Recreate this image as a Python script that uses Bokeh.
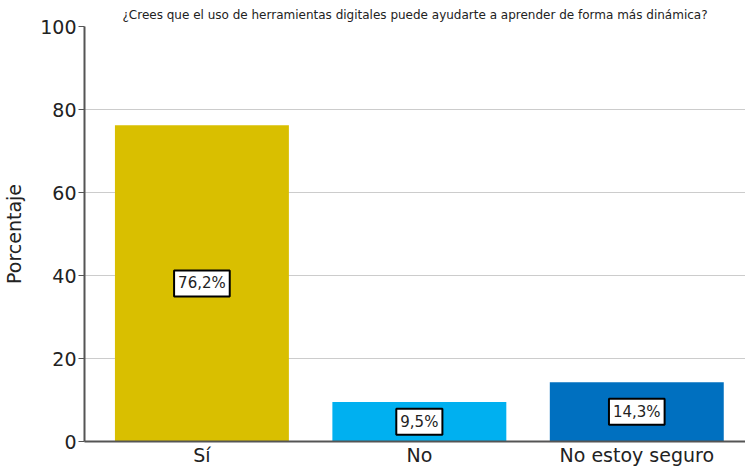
from bokeh.plotting import figure
from bokeh.models import ColumnDataSource, FixedTicker
from bokeh.core.properties import value
from bokeh.embed import file_html
from bokeh.resources import INLINE

# ---- data ----
title_text = "¿Crees que el uso de herramientas digitales puede ayudarte a aprender de forma más dinámica?"
categories = ["Sí", "No", "No estoy seguro"]
percentages = [76.2, 9.5, 14.3]
colors = ["#D9BF00", "#00B0F0", "#0070C0"]
y_ticks = [0, 20, 40, 60, 80, 100]

positions = list(range(len(categories)))
labels = [f"{v:.1f}".replace(".", ",") + "%" for v in percentages]
mids = [v / 2 for v in percentages]

src = ColumnDataSource(dict(x=positions, top=percentages, color=colors,
                            mid=mids, label=labels))

FONT = "DejaVu Sans"

p = figure(width=745, height=468, output_backend="svg", toolbar_location=None,
           x_range=(-0.54, 2.5), y_range=(0, 100),
           min_border_left=8, min_border_right=0, min_border_bottom=0, min_border_top=2)

p.title.text = title_text
p.title.align = "center"
p.title.text_font = FONT
p.title.text_font_size = "12px"
p.title.text_font_style = "normal"
p.title.text_color = "#222222"
p.title.offset = 0
p.title.standoff = 10

p.vbar(x="x", top="top", width=0.8, bottom=0, color="color", line_color=None, source=src)

p.text(x="x", y="mid", text="label", source=src,
       text_align="center", text_baseline="middle",
       text_font=value(FONT), text_font_size="15px", text_color="#222222",
       background_fill_color="white", border_line_color="black",
       border_line_width=2, padding=4)

p.outline_line_color = None
p.xgrid.grid_line_color = None
p.ygrid.grid_line_color = "#cccccc"
p.ygrid.grid_line_width = 1
p.ygrid.ticker = FixedTicker(ticks=y_ticks)

p.yaxis.ticker = FixedTicker(ticks=y_ticks)
p.yaxis.axis_label = "Porcentaje"
p.yaxis.axis_label_text_font = FONT
p.yaxis.axis_label_text_font_size = "19px"
p.yaxis.axis_label_text_font_style = "normal"
p.yaxis.axis_label_text_color = "#222222"
p.yaxis.axis_label_standoff = 12
p.yaxis.major_label_text_font = FONT
p.yaxis.major_label_text_font_size = "19px"
p.yaxis.major_label_text_color = "#222222"
p.yaxis.major_label_standoff = 2
p.yaxis.major_tick_out = 6
p.yaxis.major_tick_in = 0
p.yaxis.minor_tick_out = 0
p.yaxis.minor_tick_in = 0
p.yaxis.major_tick_line_color = "#555555"
p.yaxis.axis_line_color = "#555555"
p.yaxis.axis_line_width = 2

p.xaxis.ticker = FixedTicker(ticks=positions)
p.xaxis.major_label_overrides = {i: c for i, c in zip(positions, categories)}
p.xaxis.major_label_text_font = FONT
p.xaxis.major_label_text_font_size = "19px"
p.xaxis.major_label_text_color = "#222222"
p.xaxis.major_label_standoff = 2
p.xaxis.major_tick_out = 0
p.xaxis.major_tick_in = 0
p.xaxis.minor_tick_out = 0
p.xaxis.minor_tick_in = 0
p.xaxis.axis_line_color = "#555555"
p.xaxis.axis_line_width = 2

open("out.html", "w").write(file_html(p, INLINE))
